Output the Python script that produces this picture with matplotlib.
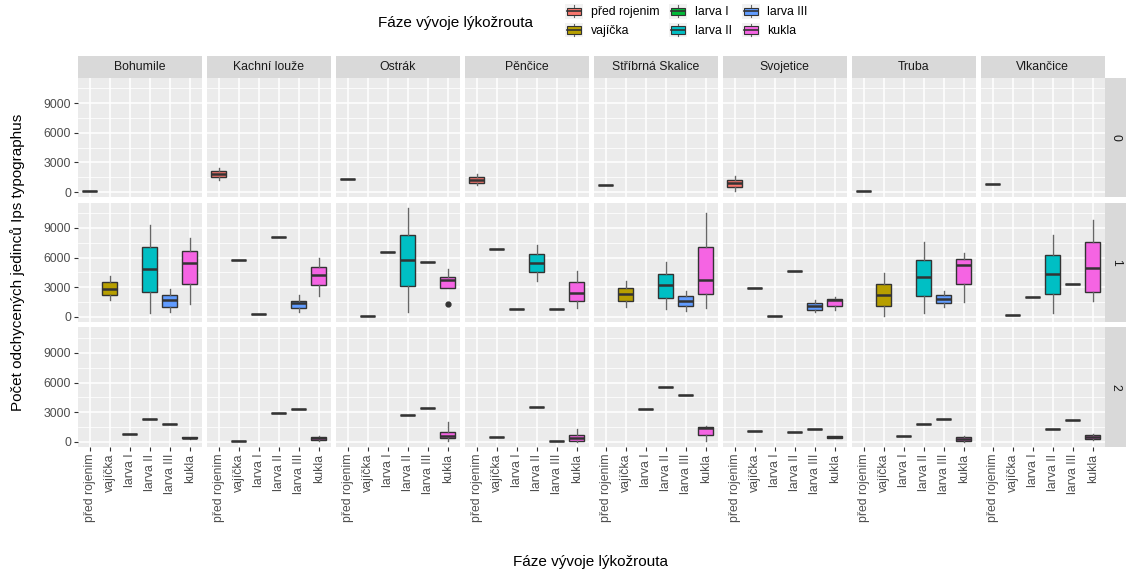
import matplotlib
matplotlib.use("Agg")
import matplotlib.pyplot as plt
from matplotlib.legend_handler import HandlerBase
from matplotlib.patches import Rectangle, Patch
from matplotlib.lines import Line2D
from matplotlib.ticker import FixedLocator

plt.rcParams['font.family'] = ['Liberation Sans', 'DejaVu Sans']

sites = ["Bohumile", "Kachní louže", "Ostrák", "Pěnčice",
         "Stříbrná Skalice", "Svojetice", "Truba", "Vlkančice"]
stages = ["před rojenim", "vajíčka", "larva I", "larva II", "larva III", "kukla"]
stage_colors = ["#F8766D", "#B79F00", "#00BA38", "#00BFC4", "#619CFF", "#F564E3"]
generations = ["0", "1", "2"]

# boxes: (site, stage, whisker low, q1, median, q3, whisker high)
gen0_boxes = [
    ("Kachní louže", "před rojenim", 1170, 1475, 1810, 2145, 2480),
    ("Pěnčice", "před rojenim", 670, 900, 1230, 1570, 1830),
    ("Svojetice", "před rojenim", 70, 470, 870, 1200, 1630),
]
# single counts: (site, stage, value)
gen0_single = [
    ("Bohumile", "před rojenim", 100),
    ("Ostrák", "před rojenim", 1330),
    ("Stříbrná Skalice", "před rojenim", 730),
    ("Truba", "před rojenim", 120),
    ("Vlkančice", "před rojenim", 830),
]

gen1_boxes = [
    ("Bohumile", "vajíčka", 1690, 2230, 2870, 3515, 4160),
    ("Bohumile", "larva II", 370, 2500, 4830, 7065, 9330),
    ("Bohumile", "larva III", 470, 1010, 1690, 2200, 2800),
    ("Bohumile", "kukla", 1350, 3310, 5440, 6690, 7980),
    ("Kachní louže", "larva III", 470, 880, 1390, 1660, 2230),
    ("Kachní louže", "kukla", 2160, 3210, 4290, 5100, 5950),
    ("Ostrák", "larva II", 470, 3110, 5745, 8315, 11020),
    ("Ostrák", "kukla", 2940, 2940, 3750, 3990, 4800),
    ("Pěnčice", "larva II", 3650, 4500, 5475, 6355, 7300),
    ("Pěnčice", "kukla", 880, 1590, 2400, 3515, 4630),
    ("Stříbrná Skalice", "vajíčka", 1010, 1620, 2370, 2975, 3620),
    ("Stříbrná Skalice", "larva II", 810, 1960, 3245, 4325, 5540),
    ("Stříbrná Skalice", "larva III", 640, 1115, 1620, 2100, 2640),
    ("Stříbrná Skalice", "kukla", 880, 2300, 3750, 7100, 10510),
    ("Svojetice", "larva III", 510, 745, 1115, 1385, 1690),
    ("Svojetice", "kukla", 710, 1115, 1720, 1790, 1990),
    ("Truba", "vajíčka", 100, 1115, 2230, 3310, 4430),
    ("Truba", "larva II", 370, 2130, 4020, 5780, 7570),
    ("Truba", "larva III", 1050, 1450, 1860, 2265, 2640),
    ("Truba", "kukla", 1555, 3350, 5240, 5815, 6490),
    ("Vlkančice", "larva II", 405, 2330, 4360, 6250, 8280),
    ("Vlkančice", "kukla", 1620, 2570, 4935, 7570, 9830),
]
gen1_single = [
    ("Kachní louže", "vajíčka", 5745),
    ("Kachní louže", "larva I", 300),
    ("Kachní louže", "larva II", 8080),
    ("Ostrák", "vajíčka", 70),
    ("Ostrák", "larva I", 6520),
    ("Ostrák", "larva III", 5540),
    ("Pěnčice", "vajíčka", 6860),
    ("Pěnčice", "larva I", 780),
    ("Pěnčice", "larva III", 780),
    ("Svojetice", "vajíčka", 2940),
    ("Svojetice", "larva I", 70),
    ("Svojetice", "larva II", 4600),
    ("Vlkančice", "vajíčka", 240),
    ("Vlkančice", "larva I", 1990),
    ("Vlkančice", "larva III", 3310),
]

gen2_boxes = [
    ("Bohumile", "kukla", 300, 340, 400, 480, 520),
    ("Kachní louže", "kukla", 100, 170, 370, 540, 640),
    ("Ostrák", "kukla", 100, 340, 570, 980, 1990),
    ("Pěnčice", "kukla", 0, 50, 420, 700, 1300),
    ("Stříbrná Skalice", "kukla", 70, 670, 1350, 1520, 1600),
    ("Svojetice", "kukla", 400, 430, 500, 560, 600),
    ("Truba", "kukla", 0, 40, 300, 470, 640),
    ("Vlkančice", "kukla", 140, 240, 500, 740, 810),
]
gen2_single = [
    ("Bohumile", "larva I", 840),
    ("Bohumile", "larva II", 2320),
    ("Bohumile", "larva III", 1850),
    ("Kachní louže", "vajíčka", 100),
    ("Kachní louže", "larva II", 2900),
    ("Kachní louže", "larva III", 3300),
    ("Ostrák", "larva II", 2760),
    ("Ostrák", "larva III", 3470),
    ("Pěnčice", "vajíčka", 470),
    ("Pěnčice", "larva II", 3540),
    ("Pěnčice", "larva III", 70),
    ("Stříbrná Skalice", "larva I", 3370),
    ("Stříbrná Skalice", "larva II", 5530),
    ("Stříbrná Skalice", "larva III", 4750),
    ("Svojetice", "vajíčka", 1080),
    ("Svojetice", "larva II", 980),
    ("Svojetice", "larva III", 1310),
    ("Truba", "larva I", 610),
    ("Truba", "larva II", 1850),
    ("Truba", "larva III", 2320),
    ("Vlkančice", "larva II", 1310),
    ("Vlkančice", "larva III", 2160),
]

# (generation, site, stage, value)
outliers = [("1", "Ostrák", "kukla", 1285)]

boxes_by_gen = {"0": gen0_boxes, "1": gen1_boxes, "2": gen2_boxes}
single_by_gen = {"0": gen0_single, "1": gen1_single, "2": gen2_single}


def collect_stats(gen, site):
    out = []
    for s, stage, lo, q1, med, q3, hi in boxes_by_gen[gen]:
        if s == site:
            out.append((stage, dict(whislo=lo, q1=q1, med=med, q3=q3, whishi=hi, fliers=[])))
    for s, stage, v in single_by_gen[gen]:
        if s == site:
            out.append((stage, dict(whislo=v, q1=v, med=v, q3=v, whishi=v, fliers=[])))
    for g, s, stage, v in outliers:
        if g == gen and s == site:
            for st, d in out:
                if st == stage:
                    d["fliers"].append(v)
    return out


all_vals = [b[6] for g in boxes_by_gen.values() for b in g]
all_vals += [b[2] for g in single_by_gen.values() for b in g]
ymax = max(all_vals)
ylim = (-0.05 * ymax, 1.05 * ymax)

W, H = 1126, 573
fig = plt.figure(figsize=(W / 100, H / 100), dpi=100)


def px_axes(x0, y0, w, h):
    return fig.add_axes([x0 / W, 1 - (y0 + h) / H, w / W, h / H])


LEFT, PW, GAP = 77.7, 124.0, 5.0
TOP, PH, STRIP = 77.6, 119.9, 22.0

for r, gen in enumerate(generations):
    y0 = TOP + r * (PH + GAP)
    for c, site in enumerate(sites):
        x0 = LEFT + c * (PW + GAP)
        ax = px_axes(x0, y0, PW, PH)
        ax.set_facecolor("#EBEBEB")
        for sp in ax.spines.values():
            sp.set_visible(False)
        ax.set_axisbelow(True)
        ax.set_xlim(0.4, 6.6)
        ax.set_ylim(*ylim)
        ax.set_xticks(range(1, 7))
        ax.set_yticks([0, 3000, 6000, 9000])
        ax.yaxis.set_minor_locator(FixedLocator([1500, 4500, 7500, 10500]))
        ax.grid(True, which="major", color="white", lw=1.1)
        ax.grid(True, which="minor", axis="y", color="white", lw=0.55)
        ax.tick_params(which="minor", length=0)
        ax.tick_params(which="major", color="#333333", length=2.7, width=0.8,
                       labelsize=8.8, labelcolor="#4D4D4D", pad=2)

        for stage, st in collect_stats(gen, site):
            i = stages.index(stage)
            ax.bxp([st], positions=[i + 1], widths=0.75, patch_artist=True,
                   showcaps=False, manage_ticks=False,
                   boxprops=dict(facecolor=stage_colors[i], edgecolor="#333333", linewidth=1.0),
                   medianprops=dict(color="#333333", linewidth=1.8),
                   whiskerprops=dict(color="#666666", linewidth=1.0),
                   flierprops=dict(marker="o", markerfacecolor="#333333",
                                   markeredgecolor="#333333", markersize=3.5))

        if c != 0:
            ax.tick_params(axis="y", length=0, labelleft=False)
        if r != len(generations) - 1:
            ax.tick_params(axis="x", length=0, labelbottom=False)
        else:
            ax.set_xticklabels(stages, rotation=90)

        if r == 0:
            sx = px_axes(x0, TOP - STRIP, PW, STRIP)
            sx.set_facecolor("#D9D9D9")
            sx.set_xticks([]); sx.set_yticks([])
            for sp in sx.spines.values():
                sp.set_visible(False)
            sx.text(0.5, 0.5, site, ha="center", va="center", fontsize=8.8,
                    color="#1A1A1A", transform=sx.transAxes)

    rx = px_axes(LEFT + 8 * PW + 7 * GAP, y0, STRIP, PH)
    rx.set_facecolor("#D9D9D9")
    rx.set_xticks([]); rx.set_yticks([])
    for sp in rx.spines.values():
        sp.set_visible(False)
    rx.text(0.5, 0.5, gen, ha="center", va="center", fontsize=8.8, rotation=-90,
            color="#1A1A1A", transform=rx.transAxes)


class BoxKey(HandlerBase):
    def create_artists(self, legend, orig_handle, xdescent, ydescent,
                       width, height, fontsize, trans):
        x, y = -xdescent, -ydescent
        bg = Rectangle((x, y), width, height, facecolor="#F2F2F2",
                       edgecolor="none", transform=trans)
        cx = x + width / 2
        wl = Line2D([cx, cx], [y + 0.1 * height, y + 0.9 * height],
                    color="#666666", lw=0.8, transform=trans)
        box = Rectangle((x + 0.125 * width, y + 0.25 * height), 0.75 * width, 0.5 * height,
                        facecolor=orig_handle.get_facecolor(), edgecolor="#333333",
                        lw=0.8, transform=trans)
        med = Line2D([x + 0.125 * width, x + 0.875 * width], [y + 0.5 * height] * 2,
                     color="#333333", lw=1.2, transform=trans)
        return [bg, wl, box, med]


handles = [Patch(facecolor=col) for col in stage_colors]
fig.legend(handles, stages, ncol=3, loc="upper left",
           bbox_to_anchor=(565 / W, 1 - 4 / H), frameon=False, fontsize=8.8,
           handlelength=1.5, handleheight=1.5, handletextpad=0.6,
           labelspacing=0.3, columnspacing=0.8, borderpad=0, borderaxespad=0,
           handler_map={Patch: BoxKey()})
fig.text(378 / W, 1 - 23 / H, "Fáze vývoje lýkožrouta", ha="left", va="center", fontsize=11)

fig.text(591 / W, 1 - 562 / H, "Fáze vývoje lýkožrouta", ha="center", va="center", fontsize=11)
fig.text(18 / W, 1 - 262 / H, "Počet odchycených jedinců Ips typographus",
         rotation=90, ha="center", va="center", fontsize=11)

fig.savefig("out.png", dpi=100)
